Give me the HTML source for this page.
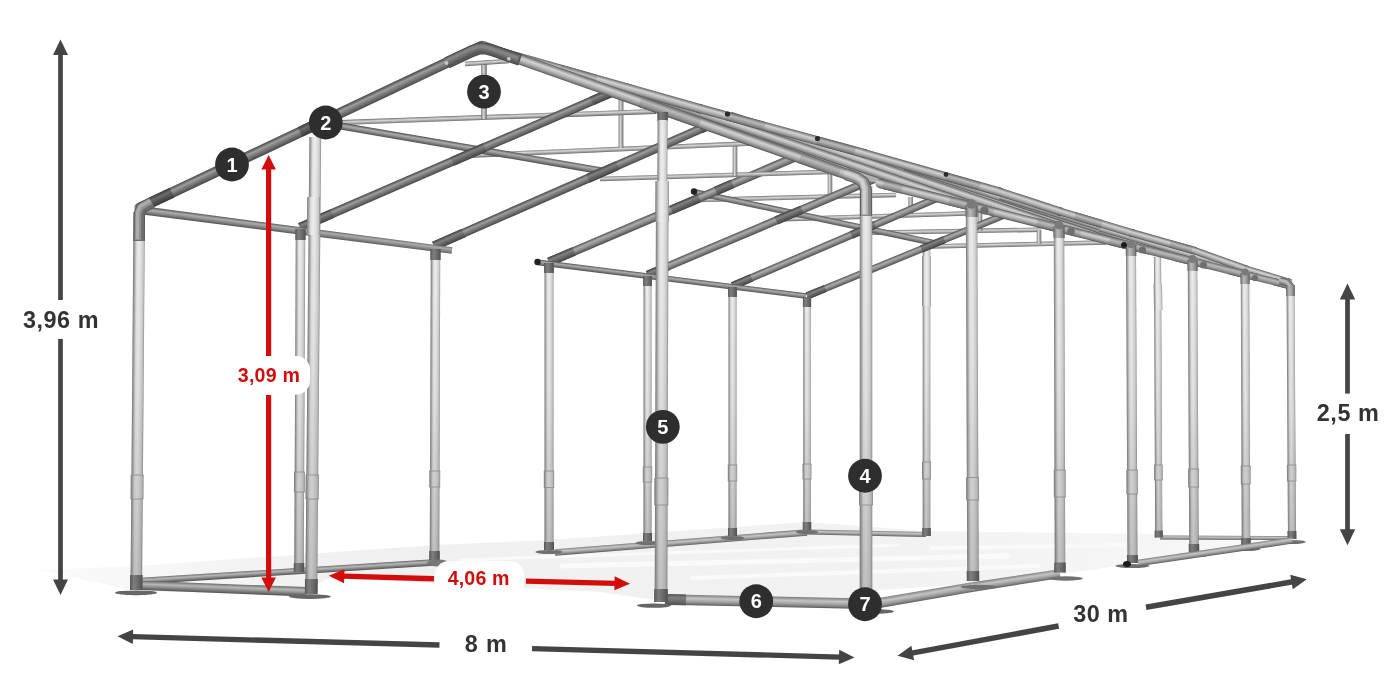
<!DOCTYPE html>
<html><head><meta charset="utf-8"><title>Frame dimensions</title>
<style>
html,body{margin:0;padding:0;background:#fff;}
body{width:1400px;height:700px;overflow:hidden;font-family:"Liberation Sans",sans-serif;}
svg{display:block}
text{font-family:"Liberation Sans",sans-serif;font-weight:bold;}
</style></head><body>
<div style="width:1400px;height:700px;will-change:transform;transform:translateZ(0)"><svg width="1400" height="700" viewBox="0 0 1400 700">
<defs><linearGradient id="g_post"><stop offset="0" stop-color="#787878"/><stop offset="0.1" stop-color="#9c9c9c"/><stop offset="0.3" stop-color="#e2e2e2"/><stop offset="0.5" stop-color="#ededed"/><stop offset="0.78" stop-color="#d6d6d6"/><stop offset="0.9" stop-color="#c2c2c2"/><stop offset="1" stop-color="#8a8a8a"/></linearGradient>
<linearGradient id="g_raft"><stop offset="0" stop-color="#4a4a4a"/><stop offset="0.14" stop-color="#686868"/><stop offset="0.33" stop-color="#9e9e9e"/><stop offset="0.52" stop-color="#848484"/><stop offset="0.78" stop-color="#666666"/><stop offset="1" stop-color="#464646"/></linearGradient>
<linearGradient id="g_raftd"><stop offset="0" stop-color="#3c3c3c"/><stop offset="0.14" stop-color="#4e4e4e"/><stop offset="0.33" stop-color="#6e6e6e"/><stop offset="0.52" stop-color="#5c5c5c"/><stop offset="0.78" stop-color="#4a4a4a"/><stop offset="1" stop-color="#363636"/></linearGradient>
<linearGradient id="g_thin"><stop offset="0" stop-color="#6c6c6c"/><stop offset="0.16" stop-color="#a2a2a2"/><stop offset="0.38" stop-color="#d6d6d6"/><stop offset="0.62" stop-color="#b0b0b0"/><stop offset="0.84" stop-color="#8a8a8a"/><stop offset="1" stop-color="#626262"/></linearGradient>
<linearGradient id="g_band"><stop offset="0" stop-color="#545454"/><stop offset="0.13" stop-color="#8e8e8e"/><stop offset="0.36" stop-color="#d2d2d2"/><stop offset="0.6" stop-color="#b6b6b6"/><stop offset="0.85" stop-color="#868686"/><stop offset="1" stop-color="#4a4a4a"/></linearGradient>
<linearGradient id="g_bandd"><stop offset="0" stop-color="#525252"/><stop offset="0.14" stop-color="#747474"/><stop offset="0.36" stop-color="#a4a4a4"/><stop offset="0.6" stop-color="#8c8c8c"/><stop offset="0.84" stop-color="#6e6e6e"/><stop offset="1" stop-color="#4a4a4a"/></linearGradient>
<linearGradient id="g_rail"><stop offset="0" stop-color="#7a7a7a"/><stop offset="0.14" stop-color="#9c9c9c"/><stop offset="0.34" stop-color="#c4c4c4"/><stop offset="0.6" stop-color="#a6a6a6"/><stop offset="0.84" stop-color="#7e7e7e"/><stop offset="1" stop-color="#585858"/></linearGradient>
<linearGradient id="g_foot"><stop offset="0" stop-color="#555555"/><stop offset="0.3" stop-color="#7e7e7e"/><stop offset="0.6" stop-color="#6e6e6e"/><stop offset="0.6" stop-color="#6e6e6e"/><stop offset="1" stop-color="#505050"/></linearGradient>
<linearGradient id="g_bandm"><stop offset="0" stop-color="#626262"/><stop offset="0.14" stop-color="#8a8a8a"/><stop offset="0.36" stop-color="#bababa"/><stop offset="0.6" stop-color="#a2a2a2"/><stop offset="0.84" stop-color="#808080"/><stop offset="1" stop-color="#585858"/></linearGradient>
<linearGradient id="g_raftm"><stop offset="0" stop-color="#444444"/><stop offset="0.14" stop-color="#5a5a5a"/><stop offset="0.33" stop-color="#838383"/><stop offset="0.52" stop-color="#6e6e6e"/><stop offset="0.78" stop-color="#585858"/><stop offset="1" stop-color="#404040"/></linearGradient>
<linearGradient id="g_raild"><stop offset="0" stop-color="#686868"/><stop offset="0.14" stop-color="#8e8e8e"/><stop offset="0.34" stop-color="#b8b8b8"/><stop offset="0.58" stop-color="#949494"/><stop offset="0.82" stop-color="#6e6e6e"/><stop offset="1" stop-color="#505050"/></linearGradient>
<linearGradient id="g_eave"><stop offset="0" stop-color="#525252"/><stop offset="0.14" stop-color="#767676"/><stop offset="0.34" stop-color="#acacac"/><stop offset="0.58" stop-color="#909090"/><stop offset="0.82" stop-color="#6c6c6c"/><stop offset="1" stop-color="#4a4a4a"/></linearGradient>
<linearGradient id="vshade" x1="0" y1="0" x2="0" y2="1"><stop offset="0" stop-color="#6e6e6e" stop-opacity="0"/><stop offset="0.45" stop-color="#6e6e6e" stop-opacity="0.08"/><stop offset="1" stop-color="#6e6e6e" stop-opacity="0.36"/></linearGradient>
<linearGradient id="p1" href="#g_rail" gradientUnits="userSpaceOnUse" x1="1226.01" y1="535.75" x2="1225.99" y2="539.75"/>
<linearGradient id="p2" href="#g_post" gradientUnits="userSpaceOnUse" x1="1154.53" y1="397.27" x2="1161.72" y2="397.23"/>
<linearGradient id="p3" href="#g_post" gradientUnits="userSpaceOnUse" x1="1154.21" y1="472.52" x2="1162.71" y2="472.48"/>
<linearGradient id="p4" href="#g_foot" gradientUnits="userSpaceOnUse" x1="1154.63" y1="534.02" x2="1162.83" y2="533.98"/>
<linearGradient id="p5" href="#g_post" gradientUnits="userSpaceOnUse" x1="1153.80" y1="297.06" x2="1162.20" y2="296.94"/>
<linearGradient id="p6" href="#g_thin" gradientUnits="userSpaceOnUse" x1="796.44" y1="195.25" x2="796.56" y2="199.75"/>
<linearGradient id="p7" href="#g_thin" gradientUnits="userSpaceOnUse" x1="870.43" y1="214.20" x2="870.57" y2="218.70"/>
<linearGradient id="p8" href="#g_thin" gradientUnits="userSpaceOnUse" x1="948.46" y1="229.10" x2="948.54" y2="233.60"/>
<linearGradient id="p9" href="#g_thin" gradientUnits="userSpaceOnUse" x1="1017.45" y1="242.25" x2="1017.55" y2="246.75"/>
<linearGradient id="p10" href="#g_thin" gradientUnits="userSpaceOnUse" x1="908.45" y1="205.50" x2="912.95" y2="205.50"/>
<linearGradient id="p11" href="#g_thin" gradientUnits="userSpaceOnUse" x1="827.75" y1="181.50" x2="832.25" y2="181.50"/>
<linearGradient id="p12" href="#g_thin" gradientUnits="userSpaceOnUse" x1="977.75" y1="222.00" x2="982.25" y2="222.00"/>
<linearGradient id="p13" href="#g_thin" gradientUnits="userSpaceOnUse" x1="1036.75" y1="237.00" x2="1041.25" y2="237.00"/>
<linearGradient id="p14" href="#g_rail" gradientUnits="userSpaceOnUse" x1="866.55" y1="530.75" x2="866.45" y2="535.75"/>
<linearGradient id="p15" href="#g_rail" gradientUnits="userSpaceOnUse" x1="680.75" y1="539.31" x2="681.25" y2="545.69"/>
<linearGradient id="p16" href="#g_post" gradientUnits="userSpaceOnUse" x1="922.70" y1="391.50" x2="930.30" y2="391.50"/>
<linearGradient id="p17" href="#g_post" gradientUnits="userSpaceOnUse" x1="922.05" y1="470.50" x2="930.95" y2="470.50"/>
<linearGradient id="p18" href="#g_foot" gradientUnits="userSpaceOnUse" x1="922.20" y1="532.00" x2="930.80" y2="532.00"/>
<linearGradient id="p19" href="#g_post" gradientUnits="userSpaceOnUse" x1="922.10" y1="281.00" x2="930.90" y2="281.00"/>
<linearGradient id="p20" href="#g_eave" gradientUnits="userSpaceOnUse" x1="814.64" y1="214.47" x2="813.36" y2="220.53"/>
<linearGradient id="p21" href="#g_eave" gradientUnits="userSpaceOnUse" x1="920.17" y1="245.76" x2="922.83" y2="252.24"/>
<linearGradient id="p22" href="#g_raftm" gradientUnits="userSpaceOnUse" x1="814.77" y1="288.86" x2="817.55" y2="295.62"/>
<linearGradient id="p23" href="#g_raftm" gradientUnits="userSpaceOnUse" x1="931.56" y1="240.92" x2="934.34" y2="247.68"/>
<linearGradient id="p24" href="#g_eave" gradientUnits="userSpaceOnUse" x1="849.75" y1="231.51" x2="852.75" y2="238.49"/>
<linearGradient id="p25" href="#g_raftm" gradientUnits="userSpaceOnUse" x1="740.44" y1="278.29" x2="743.56" y2="285.55"/>
<linearGradient id="p26" href="#g_raftm" gradientUnits="userSpaceOnUse" x1="861.57" y1="226.27" x2="864.68" y2="233.53"/>
<linearGradient id="p27" href="#g_eave" gradientUnits="userSpaceOnUse" x1="774.65" y1="216.72" x2="777.85" y2="224.28"/>
<linearGradient id="p28" href="#g_raftm" gradientUnits="userSpaceOnUse" x1="656.14" y1="266.73" x2="659.46" y2="274.55"/>
<linearGradient id="p29" href="#g_raftm" gradientUnits="userSpaceOnUse" x1="787.47" y1="211.14" x2="790.78" y2="218.96"/>
<linearGradient id="p30" href="#g_eave" gradientUnits="userSpaceOnUse" x1="686.28" y1="198.75" x2="689.72" y2="206.85"/>
<linearGradient id="p31" href="#g_raftm" gradientUnits="userSpaceOnUse" x1="559.73" y1="252.49" x2="563.29" y2="260.86"/>
<linearGradient id="p32" href="#g_raftm" gradientUnits="userSpaceOnUse" x1="683.44" y1="199.80" x2="687.00" y2="208.17"/>
<linearGradient id="p33" href="#g_raftm" gradientUnits="userSpaceOnUse" x1="722.36" y1="183.22" x2="725.92" y2="191.59"/>
<linearGradient id="p34" href="#g_eave" gradientUnits="userSpaceOnUse" x1="672.35" y1="276.42" x2="671.65" y2="281.98"/>
<linearGradient id="p35" href="#g_post" gradientUnits="userSpaceOnUse" x1="803.25" y1="414.00" x2="810.75" y2="414.00"/>
<linearGradient id="p36" href="#g_post" gradientUnits="userSpaceOnUse" x1="802.60" y1="471.50" x2="811.40" y2="471.50"/>
<linearGradient id="p37" href="#g_foot" gradientUnits="userSpaceOnUse" x1="802.75" y1="526.00" x2="811.25" y2="526.00"/>
<linearGradient id="p38" href="#g_foot" gradientUnits="userSpaceOnUse" x1="802.85" y1="302.00" x2="811.15" y2="302.00"/>
<linearGradient id="p39" href="#g_post" gradientUnits="userSpaceOnUse" x1="728.50" y1="412.00" x2="736.50" y2="412.00"/>
<linearGradient id="p40" href="#g_post" gradientUnits="userSpaceOnUse" x1="727.85" y1="473.00" x2="737.15" y2="473.00"/>
<linearGradient id="p41" href="#g_foot" gradientUnits="userSpaceOnUse" x1="728.00" y1="532.00" x2="737.00" y2="532.00"/>
<linearGradient id="p42" href="#g_foot" gradientUnits="userSpaceOnUse" x1="728.10" y1="292.00" x2="736.90" y2="292.00"/>
<linearGradient id="p43" href="#g_post" gradientUnits="userSpaceOnUse" x1="643.50" y1="409.00" x2="651.50" y2="409.00"/>
<linearGradient id="p44" href="#g_post" gradientUnits="userSpaceOnUse" x1="642.85" y1="474.50" x2="652.15" y2="474.50"/>
<linearGradient id="p45" href="#g_foot" gradientUnits="userSpaceOnUse" x1="643.00" y1="537.00" x2="652.00" y2="537.00"/>
<linearGradient id="p46" href="#g_foot" gradientUnits="userSpaceOnUse" x1="643.10" y1="281.00" x2="651.90" y2="281.00"/>
<linearGradient id="p47" href="#g_post" gradientUnits="userSpaceOnUse" x1="544.50" y1="407.00" x2="553.50" y2="407.00"/>
<linearGradient id="p48" href="#g_post" gradientUnits="userSpaceOnUse" x1="543.85" y1="479.25" x2="554.15" y2="479.25"/>
<linearGradient id="p49" href="#g_foot" gradientUnits="userSpaceOnUse" x1="544.00" y1="546.00" x2="554.00" y2="546.00"/>
<linearGradient id="p50" href="#g_foot" gradientUnits="userSpaceOnUse" x1="544.10" y1="268.00" x2="553.90" y2="268.00"/>
<linearGradient id="p51" href="#g_thin" gradientUnits="userSpaceOnUse" x1="745.93" y1="172.20" x2="746.07" y2="176.80"/>
<linearGradient id="p52" href="#g_thin" gradientUnits="userSpaceOnUse" x1="732.70" y1="159.00" x2="737.30" y2="159.00"/>
<linearGradient id="p53" href="#g_thin" gradientUnits="userSpaceOnUse" x1="626.40" y1="146.40" x2="626.60" y2="151.20"/>
<linearGradient id="p54" href="#g_thin" gradientUnits="userSpaceOnUse" x1="618.60" y1="124.00" x2="623.40" y2="124.00"/>
<linearGradient id="p55" href="#g_thin" gradientUnits="userSpaceOnUse" x1="490.91" y1="114.75" x2="491.09" y2="119.75"/>
<linearGradient id="p56" href="#g_thin" gradientUnits="userSpaceOnUse" x1="481.20" y1="90.00" x2="486.80" y2="90.00"/>
<linearGradient id="p57" href="#g_thin" gradientUnits="userSpaceOnUse" x1="486.85" y1="60.31" x2="487.15" y2="64.69"/>
<linearGradient id="p58" href="#g_eave" gradientUnits="userSpaceOnUse" x1="464.59" y1="143.80" x2="463.41" y2="150.70"/>
<linearGradient id="p59" href="#g_raft" gradientUnits="userSpaceOnUse" x1="580.19" y1="176.88" x2="583.81" y2="185.12"/>
<linearGradient id="p60" href="#g_raftm" gradientUnits="userSpaceOnUse" x1="446.93" y1="235.24" x2="450.67" y2="243.76"/>
<linearGradient id="p61" href="#g_raftm" gradientUnits="userSpaceOnUse" x1="600.85" y1="167.64" x2="604.59" y2="176.16"/>
<linearGradient id="p62" href="#g_raftm" gradientUnits="userSpaceOnUse" x1="713.33" y1="118.24" x2="717.07" y2="126.76"/>
<linearGradient id="p63" href="#g_raft" gradientUnits="userSpaceOnUse" x1="460.21" y1="153.12" x2="463.79" y2="161.38"/>
<linearGradient id="p64" href="#g_raftm" gradientUnits="userSpaceOnUse" x1="314.35" y1="216.21" x2="318.05" y2="224.74"/>
<linearGradient id="p65" href="#g_raftm" gradientUnits="userSpaceOnUse" x1="466.63" y1="150.17" x2="470.33" y2="158.71"/>
<linearGradient id="p66" href="#g_raftm" gradientUnits="userSpaceOnUse" x1="605.95" y1="89.76" x2="609.65" y2="98.29"/>
<linearGradient id="p67" href="#g_eave" gradientUnits="userSpaceOnUse" x1="298.04" y1="226.28" x2="296.96" y2="234.62"/>
<linearGradient id="p68" href="#g_band" gradientUnits="userSpaceOnUse" x1="895.94" y1="167.24" x2="893.06" y2="175.76"/>
<linearGradient id="p69" href="#g_band" gradientUnits="userSpaceOnUse" x1="798.95" y1="141.74" x2="796.05" y2="150.26"/>
<linearGradient id="p70" href="#g_band" gradientUnits="userSpaceOnUse" x1="1019.74" y1="199.20" x2="1017.26" y2="206.80"/>
<linearGradient id="p71" href="#g_band" gradientUnits="userSpaceOnUse" x1="1098.11" y1="222.42" x2="1095.89" y2="229.58"/>
<linearGradient id="p72" href="#g_band" gradientUnits="userSpaceOnUse" x1="1173.99" y1="246.14" x2="1172.01" y2="252.86"/>
<linearGradient id="p73" href="#g_band" gradientUnits="userSpaceOnUse" x1="592.28" y1="73.33" x2="589.72" y2="82.37"/>
<linearGradient id="p74" href="#g_band" gradientUnits="userSpaceOnUse" x1="783.69" y1="126.84" x2="781.31" y2="135.56"/>
<linearGradient id="p75" href="#g_band" gradientUnits="userSpaceOnUse" x1="933.68" y1="168.68" x2="931.32" y2="177.02"/>
<linearGradient id="p76" href="#g_band" gradientUnits="userSpaceOnUse" x1="1031.28" y1="197.80" x2="1028.72" y2="205.70"/>
<linearGradient id="p77" href="#g_band" gradientUnits="userSpaceOnUse" x1="1097.14" y1="218.44" x2="1094.86" y2="226.06"/>
<linearGradient id="p78" href="#g_band" gradientUnits="userSpaceOnUse" x1="1164.03" y1="238.10" x2="1161.97" y2="245.40"/>
<linearGradient id="p79" href="#g_band" gradientUnits="userSpaceOnUse" x1="1221.21" y1="256.35" x2="1218.79" y2="263.15"/>
<linearGradient id="p80" href="#g_band" gradientUnits="userSpaceOnUse" x1="1268.49" y1="272.22" x2="1266.51" y2="278.78"/>
<linearGradient id="p81" href="#g_bandm" gradientUnits="userSpaceOnUse" x1="579.23" y1="69.84" x2="576.77" y2="78.50"/>
<linearGradient id="p82" href="#g_bandm" gradientUnits="userSpaceOnUse" x1="747.13" y1="117.10" x2="744.87" y2="125.39"/>
<linearGradient id="p83" href="#g_bandm" gradientUnits="userSpaceOnUse" x1="837.10" y1="141.76" x2="834.90" y2="149.82"/>
<linearGradient id="p84" href="#g_bandm" gradientUnits="userSpaceOnUse" x1="964.10" y1="177.64" x2="961.90" y2="185.37"/>
<linearGradient id="p85" href="#g_bandm" gradientUnits="userSpaceOnUse" x1="1089.60" y1="216.31" x2="1087.40" y2="223.71"/>
<linearGradient id="p86" href="#g_bandm" gradientUnits="userSpaceOnUse" x1="1182.02" y1="243.23" x2="1179.98" y2="250.43"/>
<linearGradient id="p87" href="#g_band" gradientUnits="userSpaceOnUse" x1="926.86" y1="190.48" x2="924.64" y2="199.41"/>
<linearGradient id="p88" href="#g_bandm" gradientUnits="userSpaceOnUse" x1="893.61" y1="182.20" x2="891.39" y2="191.13"/>
<linearGradient id="p89" href="#g_bandm" gradientUnits="userSpaceOnUse" x1="960.61" y1="198.88" x2="958.39" y2="207.81"/>
<linearGradient id="p90" href="#g_band" gradientUnits="userSpaceOnUse" x1="1016.31" y1="212.96" x2="1014.19" y2="221.50"/>
<linearGradient id="p91" href="#g_bandm" gradientUnits="userSpaceOnUse" x1="985.06" y1="205.18" x2="982.94" y2="213.72"/>
<linearGradient id="p92" href="#g_bandm" gradientUnits="userSpaceOnUse" x1="1048.06" y1="220.87" x2="1045.94" y2="229.40"/>
<linearGradient id="p93" href="#g_band" gradientUnits="userSpaceOnUse" x1="1096.01" y1="233.01" x2="1093.99" y2="241.16"/>
<linearGradient id="p94" href="#g_bandm" gradientUnits="userSpaceOnUse" x1="1072.31" y1="227.11" x2="1070.29" y2="235.26"/>
<linearGradient id="p95" href="#g_bandm" gradientUnits="userSpaceOnUse" x1="1120.21" y1="239.04" x2="1118.19" y2="247.19"/>
<linearGradient id="p96" href="#g_bandm" gradientUnits="userSpaceOnUse" x1="1162.72" y1="249.83" x2="1160.78" y2="257.59"/>
<linearGradient id="p97" href="#g_bandm" gradientUnits="userSpaceOnUse" x1="1142.69" y1="244.84" x2="1140.76" y2="252.60"/>
<linearGradient id="p98" href="#g_bandm" gradientUnits="userSpaceOnUse" x1="1183.24" y1="254.94" x2="1181.31" y2="262.70"/>
<linearGradient id="p99" href="#g_bandm" gradientUnits="userSpaceOnUse" x1="1219.67" y1="264.21" x2="1217.83" y2="271.59"/>
<linearGradient id="p100" href="#g_bandm" gradientUnits="userSpaceOnUse" x1="1202.79" y1="260.01" x2="1200.96" y2="267.39"/>
<linearGradient id="p101" href="#g_bandm" gradientUnits="userSpaceOnUse" x1="1237.04" y1="268.54" x2="1235.21" y2="275.91"/>
<linearGradient id="p102" href="#g_bandm" gradientUnits="userSpaceOnUse" x1="1266.87" y1="276.17" x2="1265.13" y2="283.16"/>
<linearGradient id="p103" href="#g_bandm" gradientUnits="userSpaceOnUse" x1="1253.67" y1="272.89" x2="1251.93" y2="279.87"/>
<linearGradient id="p104" href="#g_bandm" gradientUnits="userSpaceOnUse" x1="1280.57" y1="279.58" x2="1278.83" y2="286.57"/>
<linearGradient id="p105" href="#g_band" gradientUnits="userSpaceOnUse" x1="668.79" y1="106.01" x2="665.21" y2="116.19"/>
<linearGradient id="p106" href="#g_bandm" gradientUnits="userSpaceOnUse" x1="671.79" y1="107.06" x2="668.21" y2="117.24"/>
<linearGradient id="p107" href="#g_bandm" gradientUnits="userSpaceOnUse" x1="821.80" y1="159.86" x2="818.20" y2="170.04"/>
<linearGradient id="p108" href="#g_raft" gradientUnits="userSpaceOnUse" x1="308.51" y1="122.25" x2="312.99" y2="131.75"/>
<linearGradient id="p109" href="#g_raftd" gradientUnits="userSpaceOnUse" x1="312.73" y1="120.11" x2="317.27" y2="129.69"/>
<linearGradient id="p110" href="#g_raftd" gradientUnits="userSpaceOnUse" x1="158.73" y1="193.01" x2="163.27" y2="202.59"/>
<linearGradient id="p111" href="#g_post" gradientUnits="userSpaceOnUse" x1="1287.25" y1="413.02" x2="1295.25" y2="412.98"/>
<linearGradient id="p112" href="#g_post" gradientUnits="userSpaceOnUse" x1="1286.96" y1="473.03" x2="1296.26" y2="472.97"/>
<linearGradient id="p113" href="#g_foot" gradientUnits="userSpaceOnUse" x1="1287.48" y1="535.03" x2="1296.48" y2="534.97"/>
<linearGradient id="p114" href="#g_bandm" gradientUnits="userSpaceOnUse" x1="1286.25" y1="290.54" x2="1294.85" y2="290.46"/>
<linearGradient id="p115" href="#g_post" gradientUnits="userSpaceOnUse" x1="1241.25" y1="410.52" x2="1249.75" y2="410.48"/>
<linearGradient id="p116" href="#g_post" gradientUnits="userSpaceOnUse" x1="1240.84" y1="475.02" x2="1250.64" y2="474.98"/>
<linearGradient id="p117" href="#g_foot" gradientUnits="userSpaceOnUse" x1="1241.24" y1="542.02" x2="1250.74" y2="541.98"/>
<linearGradient id="p118" href="#g_bandm" gradientUnits="userSpaceOnUse" x1="1240.50" y1="278.54" x2="1249.60" y2="278.46"/>
<linearGradient id="p119" href="#g_post" gradientUnits="userSpaceOnUse" x1="1188.50" y1="407.02" x2="1198.00" y2="406.98"/>
<linearGradient id="p120" href="#g_post" gradientUnits="userSpaceOnUse" x1="1188.22" y1="478.03" x2="1199.02" y2="477.97"/>
<linearGradient id="p121" href="#g_foot" gradientUnits="userSpaceOnUse" x1="1188.73" y1="548.03" x2="1199.23" y2="547.97"/>
<linearGradient id="p122" href="#g_bandm" gradientUnits="userSpaceOnUse" x1="1187.50" y1="265.55" x2="1197.60" y2="265.45"/>
<linearGradient id="p123" href="#g_post" gradientUnits="userSpaceOnUse" x1="1126.75" y1="405.02" x2="1136.75" y2="404.98"/>
<linearGradient id="p124" href="#g_post" gradientUnits="userSpaceOnUse" x1="1126.47" y1="482.03" x2="1137.77" y2="481.97"/>
<linearGradient id="p125" href="#g_foot" gradientUnits="userSpaceOnUse" x1="1126.98" y1="559.03" x2="1137.98" y2="558.97"/>
<linearGradient id="p126" href="#g_bandm" gradientUnits="userSpaceOnUse" x1="1125.75" y1="250.55" x2="1136.35" y2="250.45"/>
<linearGradient id="p127" href="#g_rail" gradientUnits="userSpaceOnUse" x1="1214.77" y1="548.39" x2="1215.73" y2="554.91"/>
<linearGradient id="p128" href="#g_raild" gradientUnits="userSpaceOnUse" x1="286.80" y1="568.56" x2="287.20" y2="574.94"/>
<linearGradient id="p129" href="#g_post" gradientUnits="userSpaceOnUse" x1="430.25" y1="404.98" x2="439.75" y2="405.02"/>
<linearGradient id="p130" href="#g_post" gradientUnits="userSpaceOnUse" x1="429.36" y1="478.98" x2="440.16" y2="479.02"/>
<linearGradient id="p131" href="#g_foot" gradientUnits="userSpaceOnUse" x1="429.26" y1="555.48" x2="439.76" y2="555.52"/>
<linearGradient id="p132" href="#g_foot" gradientUnits="userSpaceOnUse" x1="430.35" y1="254.50" x2="440.65" y2="254.50"/>
<linearGradient id="p133" href="#g_post" gradientUnits="userSpaceOnUse" x1="295.00" y1="400.98" x2="304.50" y2="401.02"/>
<linearGradient id="p134" href="#g_post" gradientUnits="userSpaceOnUse" x1="293.99" y1="481.98" x2="304.79" y2="482.02"/>
<linearGradient id="p135" href="#g_foot" gradientUnits="userSpaceOnUse" x1="293.77" y1="567.48" x2="304.27" y2="567.52"/>
<linearGradient id="p136" href="#g_foot" gradientUnits="userSpaceOnUse" x1="295.35" y1="234.50" x2="305.65" y2="234.50"/>
<linearGradient id="p137" href="#g_rail" gradientUnits="userSpaceOnUse" x1="918.64" y1="591.12" x2="920.36" y2="601.18"/>
<linearGradient id="p138" href="#g_rail" gradientUnits="userSpaceOnUse" x1="1015.78" y1="575.65" x2="1017.22" y2="584.95"/>
<linearGradient id="p139" href="#g_post" gradientUnits="userSpaceOnUse" x1="1054.25" y1="400.27" x2="1064.75" y2="400.23"/>
<linearGradient id="p140" href="#g_post" gradientUnits="userSpaceOnUse" x1="1053.84" y1="483.52" x2="1065.64" y2="483.48"/>
<linearGradient id="p141" href="#g_foot" gradientUnits="userSpaceOnUse" x1="1054.24" y1="567.52" x2="1065.74" y2="567.48"/>
<linearGradient id="p142" href="#g_bandm" gradientUnits="userSpaceOnUse" x1="1053.50" y1="232.05" x2="1064.60" y2="231.95"/>
<linearGradient id="p143" href="#g_post" gradientUnits="userSpaceOnUse" x1="966.50" y1="394.02" x2="978.00" y2="393.98"/>
<linearGradient id="p144" href="#g_post" gradientUnits="userSpaceOnUse" x1="966.23" y1="488.78" x2="979.03" y2="488.72"/>
<linearGradient id="p145" href="#g_foot" gradientUnits="userSpaceOnUse" x1="966.73" y1="576.03" x2="979.23" y2="575.97"/>
<linearGradient id="p146" href="#g_bandm" gradientUnits="userSpaceOnUse" x1="965.50" y1="211.05" x2="977.60" y2="210.95"/>
<linearGradient id="p147" href="#g_raild" gradientUnits="userSpaceOnUse" x1="223.68" y1="583.90" x2="223.32" y2="593.30"/>
<linearGradient id="p148" href="#g_rail" gradientUnits="userSpaceOnUse" x1="765.61" y1="596.45" x2="765.39" y2="606.85"/>
<linearGradient id="p149" href="#g_foot" gradientUnits="userSpaceOnUse" x1="675.62" y1="594.33" x2="675.38" y2="605.12"/>
<linearGradient id="p150" href="#g_post" gradientUnits="userSpaceOnUse" x1="132.00" y1="400.95" x2="143.50" y2="401.05"/>
<linearGradient id="p151" href="#g_post" gradientUnits="userSpaceOnUse" x1="130.67" y1="486.95" x2="143.47" y2="487.05"/>
<linearGradient id="p152" href="#g_foot" gradientUnits="userSpaceOnUse" x1="130.06" y1="582.45" x2="142.56" y2="582.55"/>
<linearGradient id="p153" href="#g_post" gradientUnits="userSpaceOnUse" x1="307.35" y1="365.45" x2="319.15" y2="365.55"/>
<linearGradient id="p154" href="#g_post" gradientUnits="userSpaceOnUse" x1="305.64" y1="486.94" x2="318.74" y2="487.06"/>
<linearGradient id="p155" href="#g_foot" gradientUnits="userSpaceOnUse" x1="304.92" y1="586.44" x2="317.72" y2="586.56"/>
<linearGradient id="p156" href="#g_post" gradientUnits="userSpaceOnUse" x1="307.05" y1="215.95" x2="319.85" y2="216.05"/>
<linearGradient id="p157" href="#g_foot" gradientUnits="userSpaceOnUse" x1="657.30" y1="116.50" x2="667.90" y2="116.50"/>
<linearGradient id="p158" href="#g_post" gradientUnits="userSpaceOnUse" x1="657.45" y1="150.98" x2="667.45" y2="151.02"/>
<linearGradient id="p159" href="#g_post" gradientUnits="userSpaceOnUse" x1="655.35" y1="391.48" x2="667.95" y2="391.52"/>
<linearGradient id="p160" href="#g_post" gradientUnits="userSpaceOnUse" x1="654.39" y1="491.48" x2="668.29" y2="491.52"/>
<linearGradient id="p161" href="#g_foot" gradientUnits="userSpaceOnUse" x1="654.22" y1="595.48" x2="667.82" y2="595.52"/>
<linearGradient id="p162" href="#g_post" gradientUnits="userSpaceOnUse" x1="655.30" y1="201.47" x2="668.90" y2="201.53"/>
<linearGradient id="p163" href="#g_post" gradientUnits="userSpaceOnUse" x1="859.75" y1="394.00" x2="872.25" y2="394.00"/>
<linearGradient id="p164" href="#g_post" gradientUnits="userSpaceOnUse" x1="859.10" y1="488.50" x2="872.90" y2="488.50"/></defs>
<defs>
<linearGradient id="shg" x1="0" y1="0" x2="1" y2="0">
<stop offset="0" stop-color="#fafafa"/><stop offset="0.25" stop-color="#f0f0f0"/><stop offset="0.7" stop-color="#f2f2f2"/><stop offset="1" stop-color="#f8f8f8"/>
</linearGradient>
</defs>
<polygon points="40,570 137,566 435,545 549,540 807,522 926,531 1160,534 1292,537 1292,541 1062,574 1030,580 880,590 866,600 700,597 655,600 600,592 330,578 300,592 140,592" fill="url(#shg)"/>
<line x1="560" y1="566" x2="1010" y2="556" stroke="#fafafa" stroke-width="5"/>
<line x1="690" y1="578" x2="1040" y2="566" stroke="#fafafa" stroke-width="4"/>
<line x1="460" y1="560" x2="900" y2="545" stroke="#fafafa" stroke-width="3"/>
<line x1="930" y1="548" x2="1130" y2="545" stroke="#fafafa" stroke-width="4"/>
<polygon points="1160.01,535.50 1292.01,536.00 1291.99,540.00 1159.99,539.50" fill="url(#p1)"/>
<polygon points="1153.90,257.02 1155.15,537.52 1162.35,537.48 1161.10,256.98" fill="url(#p2)"/>
<polygon points="1153.90,257.00 1161.10,257.00 1162.35,537.50 1155.15,537.50" fill="url(#vshade)"/>
<polygon points="1154.18,465.02 1154.24,480.02 1162.74,479.98 1162.68,464.98" fill="url(#p3)"/>
<rect x="1154.18" y="465.00" width="8.50" height="15.00" fill="#6e6e6e" fill-opacity="0.24"/>
<line x1="1154.18" y1="465.00" x2="1162.68" y2="465.00" stroke="#8a8a8a" stroke-width="0.8"/>
<line x1="1154.24" y1="480.00" x2="1162.74" y2="480.00" stroke="#8a8a8a" stroke-width="0.8"/>
<polygon points="1154.62,530.52 1154.65,537.52 1162.85,537.48 1162.82,530.48" fill="url(#p4)"/>
<polygon points="1153.60,284.06 1154.00,310.06 1162.40,309.94 1162.00,283.94" fill="url(#p5)"/>
<polygon points="696.94,197.75 895.94,192.75 896.06,197.25 697.06,202.25" fill="url(#p6)"/>
<polygon points="774.93,217.25 965.93,211.15 966.07,215.65 775.07,221.75" fill="url(#p7)"/>
<polygon points="855.96,230.75 1040.96,227.45 1041.04,231.95 856.04,235.25" fill="url(#p8)"/>
<polygon points="928.95,244.15 1105.95,240.35 1106.05,244.85 929.05,248.65" fill="url(#p9)"/>
<polygon points="908.45,197.00 908.45,214.00 912.95,214.00 912.95,197.00" fill="url(#p10)"/>
<polygon points="827.75,168.00 827.75,195.00 832.25,195.00 832.25,168.00" fill="url(#p11)"/>
<polygon points="977.75,213.00 977.75,231.00 982.25,231.00 982.25,213.00" fill="url(#p12)"/>
<polygon points="1036.75,230.00 1036.75,244.00 1041.25,244.00 1041.25,230.00" fill="url(#p13)"/>
<polygon points="807.05,529.50 926.05,532.00 925.95,537.00 806.95,534.50" fill="url(#p14)"/>
<polygon points="554.75,549.31 806.75,529.31 807.25,535.69 555.25,555.69" fill="url(#p15)"/>
<polygon points="922.70,247.00 922.70,536.00 930.30,536.00 930.30,247.00" fill="url(#p16)"/>
<polygon points="922.70,247.00 930.30,247.00 930.30,536.00 922.70,536.00" fill="url(#vshade)"/>
<polygon points="922.05,462.00 922.05,479.00 930.95,479.00 930.95,462.00" fill="url(#p17)"/>
<rect x="922.05" y="462.00" width="8.90" height="17.00" fill="#6e6e6e" fill-opacity="0.24"/>
<line x1="922.05" y1="462.00" x2="930.95" y2="462.00" stroke="#8a8a8a" stroke-width="0.8"/>
<line x1="922.05" y1="479.00" x2="930.95" y2="479.00" stroke="#8a8a8a" stroke-width="0.8"/>
<polygon points="922.20,528.00 922.20,536.00 930.80,536.00 930.80,528.00" fill="url(#p18)"/>
<polygon points="922.10,256.00 922.10,306.00 930.90,306.00 930.90,256.00" fill="url(#p19)"/>
<polygon points="694.64,188.97 934.64,239.97 933.36,246.03 693.36,195.03" fill="url(#p20)"/>
<polygon points="805.67,292.76 1034.67,198.76 1037.33,205.24 808.33,299.24" fill="url(#p21)"/>
<polygon points="805.61,292.62 823.93,285.10 826.71,291.86 808.39,299.38" fill="url(#p22)"/>
<polygon points="920.11,245.62 943.01,236.22 945.79,242.98 922.89,252.38" fill="url(#p23)"/>
<polygon points="731.00,282.51 968.50,180.51 971.50,187.49 734.00,289.49" fill="url(#p24)"/>
<polygon points="730.94,282.37 749.94,274.21 753.06,281.47 734.06,289.63" fill="url(#p25)"/>
<polygon points="849.69,231.37 873.44,221.17 876.56,228.43 852.81,238.63" fill="url(#p26)"/>
<polygon points="645.90,271.22 903.40,162.22 906.60,169.78 649.10,278.78" fill="url(#p27)"/>
<polygon points="645.84,271.09 666.44,262.37 669.76,270.19 649.16,278.91" fill="url(#p28)"/>
<polygon points="774.59,216.59 800.34,205.69 803.66,213.51 777.91,224.41" fill="url(#p29)"/>
<polygon points="547.28,257.95 825.28,139.55 828.72,147.65 550.72,266.05" fill="url(#p30)"/>
<polygon points="547.22,257.81 572.24,247.16 575.80,255.53 550.78,266.19" fill="url(#p31)"/>
<polygon points="669.54,205.72 697.34,193.88 700.90,202.25 673.10,214.09" fill="url(#p32)"/>
<polygon points="714.02,186.77 730.70,179.67 734.26,188.04 717.58,195.15" fill="url(#p33)"/>
<polygon points="538.35,259.62 806.35,293.22 805.65,298.78 537.65,265.18" fill="url(#p34)"/>
<circle cx="537.5" cy="262" r="3.2" fill="#222"/>
<circle cx="694" cy="191.5" r="3.2" fill="#222"/>
<polygon points="803.25,298.00 803.25,530.00 810.75,530.00 810.75,298.00" fill="url(#p35)"/>
<polygon points="803.25,298.00 810.75,298.00 810.75,530.00 803.25,530.00" fill="url(#vshade)"/>
<polygon points="802.60,464.00 802.60,479.00 811.40,479.00 811.40,464.00" fill="url(#p36)"/>
<rect x="802.60" y="464.00" width="8.80" height="15.00" fill="#6e6e6e" fill-opacity="0.23"/>
<line x1="802.60" y1="464.00" x2="811.40" y2="464.00" stroke="#8a8a8a" stroke-width="0.8"/>
<line x1="802.60" y1="479.00" x2="811.40" y2="479.00" stroke="#8a8a8a" stroke-width="0.8"/>
<polygon points="802.75,522.00 802.75,530.00 811.25,530.00 811.25,522.00" fill="url(#p37)"/>
<polygon points="802.85,297.00 802.85,307.00 811.15,307.00 811.15,297.00" fill="url(#p38)"/>
<ellipse cx="807.0" cy="532.0" rx="11.2" ry="2" fill="#707070"/>
<polygon points="728.50,288.00 728.50,536.00 736.50,536.00 736.50,288.00" fill="url(#p39)"/>
<polygon points="728.50,288.00 736.50,288.00 736.50,536.00 728.50,536.00" fill="url(#vshade)"/>
<polygon points="727.85,465.00 727.85,481.00 737.15,481.00 737.15,465.00" fill="url(#p40)"/>
<rect x="727.85" y="465.00" width="9.30" height="16.00" fill="#6e6e6e" fill-opacity="0.23"/>
<line x1="727.85" y1="465.00" x2="737.15" y2="465.00" stroke="#8a8a8a" stroke-width="0.8"/>
<line x1="727.85" y1="481.00" x2="737.15" y2="481.00" stroke="#8a8a8a" stroke-width="0.8"/>
<polygon points="728.00,528.00 728.00,536.00 737.00,536.00 737.00,528.00" fill="url(#p41)"/>
<polygon points="728.10,287.00 728.10,297.00 736.90,297.00 736.90,287.00" fill="url(#p42)"/>
<ellipse cx="732.5" cy="538.0" rx="12.0" ry="2" fill="#707070"/>
<polygon points="643.50,277.00 643.50,541.00 651.50,541.00 651.50,277.00" fill="url(#p43)"/>
<polygon points="643.50,277.00 651.50,277.00 651.50,541.00 643.50,541.00" fill="url(#vshade)"/>
<polygon points="642.85,467.00 642.85,482.00 652.15,482.00 652.15,467.00" fill="url(#p44)"/>
<rect x="642.85" y="467.00" width="9.30" height="15.00" fill="#6e6e6e" fill-opacity="0.23"/>
<line x1="642.85" y1="467.00" x2="652.15" y2="467.00" stroke="#8a8a8a" stroke-width="0.8"/>
<line x1="642.85" y1="482.00" x2="652.15" y2="482.00" stroke="#8a8a8a" stroke-width="0.8"/>
<polygon points="643.00,533.00 643.00,541.00 652.00,541.00 652.00,533.00" fill="url(#p45)"/>
<polygon points="643.10,276.00 643.10,286.00 651.90,286.00 651.90,276.00" fill="url(#p46)"/>
<ellipse cx="647.5" cy="543.0" rx="12.0" ry="2" fill="#707070"/>
<polygon points="544.50,264.00 544.50,550.00 553.50,550.00 553.50,264.00" fill="url(#p47)"/>
<polygon points="544.50,264.00 553.50,264.00 553.50,550.00 544.50,550.00" fill="url(#vshade)"/>
<polygon points="543.85,471.00 543.85,487.50 554.15,487.50 554.15,471.00" fill="url(#p48)"/>
<rect x="543.85" y="471.00" width="10.30" height="16.50" fill="#6e6e6e" fill-opacity="0.23"/>
<line x1="543.85" y1="471.00" x2="554.15" y2="471.00" stroke="#8a8a8a" stroke-width="0.8"/>
<line x1="543.85" y1="487.50" x2="554.15" y2="487.50" stroke="#8a8a8a" stroke-width="0.8"/>
<polygon points="544.00,542.00 544.00,550.00 554.00,550.00 554.00,542.00" fill="url(#p49)"/>
<polygon points="544.10,263.00 544.10,273.00 553.90,273.00 553.90,263.00" fill="url(#p50)"/>
<ellipse cx="549.0" cy="552.0" rx="13.5" ry="2" fill="#707070"/>
<polygon points="599.93,176.70 891.93,167.70 892.07,172.30 600.07,181.30" fill="url(#p51)"/>
<polygon points="732.70,142.00 732.70,176.00 737.30,176.00 737.30,142.00" fill="url(#p52)"/>
<polygon points="466.90,153.20 785.90,139.60 786.10,144.40 467.10,158.00" fill="url(#p53)"/>
<polygon points="618.60,100.00 618.60,148.00 623.40,148.00 623.40,100.00" fill="url(#p54)"/>
<polygon points="325.91,120.50 655.91,109.00 656.09,114.00 326.09,125.50" fill="url(#p55)"/>
<polygon points="481.20,61.00 481.20,119.00 486.80,119.00 486.80,61.00" fill="url(#p56)"/>
<polygon points="464.85,61.81 508.85,58.81 509.15,63.19 465.15,66.19" fill="url(#p57)"/>
<polygon points="326.59,120.05 602.59,167.55 601.41,174.45 325.41,126.95" fill="url(#p58)"/>
<polygon points="432.19,241.88 728.19,111.88 731.81,120.12 435.81,250.12" fill="url(#p59)"/>
<polygon points="432.13,241.74 461.73,228.74 465.47,237.26 435.87,250.26" fill="url(#p60)"/>
<polygon points="586.05,174.14 615.65,161.14 619.39,169.66 589.79,182.66" fill="url(#p61)"/>
<polygon points="698.53,124.74 728.13,111.74 731.87,120.26 702.27,133.26" fill="url(#p62)"/>
<polygon points="298.21,223.37 622.21,82.87 625.79,91.13 301.79,231.63" fill="url(#p63)"/>
<polygon points="298.15,223.23 330.55,209.18 334.25,217.72 301.85,231.77" fill="url(#p64)"/>
<polygon points="450.43,157.20 482.83,143.15 486.53,151.68 454.13,165.73" fill="url(#p65)"/>
<polygon points="589.75,96.78 622.15,82.73 625.85,91.27 593.45,105.32" fill="url(#p66)"/>
<polygon points="143.54,206.23 452.41,247.33 451.59,253.67 142.46,214.57" fill="url(#p67)"/>
<polygon points="500.0,53.0 700.0,108.7 865.0,153.7 1000.0,192.0 1060.0,211.5 1132.0,233.0 1194.0,250.5 1246.0,269.0 1289.0,282.0 1289.0,284.0 1245.0,274.4 1131.0,246.1 1059.0,228.1 971.5,206.3 866.0,180.1 700.0,123.0" fill="#b0b0b0"/>
<polygon points="731.44,111.74 1060.44,222.74 1057.56,231.26 728.56,120.26" fill="url(#p68)"/>
<polygon points="625.45,82.74 972.45,200.74 969.55,209.26 622.55,91.26" fill="url(#p69)"/>
<polygon points="906.24,162.20 1133.24,236.20 1130.76,243.80 903.76,169.80" fill="url(#p70)"/>
<polygon points="1001.11,192.42 1195.11,252.42 1192.89,259.58 998.89,199.58" fill="url(#p71)"/>
<polygon points="1100.99,224.64 1246.99,267.64 1245.01,274.36 1099.01,231.36" fill="url(#p72)"/>
<polygon points="483.28,42.48 701.28,104.18 698.72,113.22 480.72,51.52" fill="url(#p73)"/>
<circle cx="482.00" cy="47.00" r="4.70" fill="url(#p73)"/>
<circle cx="700.00" cy="108.70" r="4.70" fill="url(#p73)"/>
<polygon points="701.19,104.34 866.19,149.34 863.81,158.06 698.81,113.06" fill="url(#p74)"/>
<circle cx="700.00" cy="108.70" r="4.52" fill="url(#p74)"/>
<circle cx="865.00" cy="153.70" r="4.52" fill="url(#p74)"/>
<polygon points="866.18,149.53 1001.18,187.83 998.82,196.17 863.82,157.87" fill="url(#p75)"/>
<circle cx="865.00" cy="153.70" r="4.34" fill="url(#p75)"/>
<circle cx="1000.00" cy="192.00" r="4.34" fill="url(#p75)"/>
<polygon points="1001.28,188.05 1061.28,207.55 1058.72,215.45 998.72,195.95" fill="url(#p76)"/>
<circle cx="1000.00" cy="192.00" r="4.16" fill="url(#p76)"/>
<circle cx="1060.00" cy="211.50" r="4.16" fill="url(#p76)"/>
<polygon points="1061.14,207.69 1133.14,229.19 1130.86,236.81 1058.86,215.31" fill="url(#p77)"/>
<circle cx="1060.00" cy="211.50" r="3.98" fill="url(#p77)"/>
<circle cx="1132.00" cy="233.00" r="3.98" fill="url(#p77)"/>
<polygon points="1133.03,229.35 1195.03,246.85 1192.97,254.15 1130.97,236.65" fill="url(#p78)"/>
<circle cx="1132.00" cy="233.00" r="3.79" fill="url(#p78)"/>
<circle cx="1194.00" cy="250.50" r="3.79" fill="url(#p78)"/>
<polygon points="1195.21,247.10 1247.21,265.60 1244.79,272.40 1192.79,253.90" fill="url(#p79)"/>
<circle cx="1194.00" cy="250.50" r="3.61" fill="url(#p79)"/>
<circle cx="1246.00" cy="269.00" r="3.61" fill="url(#p79)"/>
<polygon points="1246.99,265.72 1289.99,278.72 1288.01,285.28 1245.01,272.28" fill="url(#p80)"/>
<circle cx="1246.00" cy="269.00" r="3.43" fill="url(#p80)"/>
<circle cx="1289.00" cy="282.00" r="3.43" fill="url(#p80)"/>
<polygon points="561.23,64.74 597.23,74.93 594.77,83.60 558.77,73.41" fill="url(#p81)"/>
<polygon points="728.13,111.92 766.13,122.28 763.87,130.57 725.87,120.21" fill="url(#p82)"/>
<polygon points="818.10,136.58 856.10,146.94 853.90,155.01 815.90,144.64" fill="url(#p83)"/>
<polygon points="947.10,172.81 981.10,182.46 978.90,190.19 944.90,180.55" fill="url(#p84)"/>
<polygon points="1076.10,212.28 1103.10,220.34 1100.90,227.74 1073.90,219.68" fill="url(#p85)"/>
<polygon points="1171.02,240.13 1193.02,246.34 1190.98,253.53 1168.98,247.33" fill="url(#p86)"/>
<circle cx="727.5" cy="114.0" r="2.6" fill="#2a2a2a"/>
<circle cx="817.5" cy="138.5" r="2.6" fill="#2a2a2a"/>
<circle cx="946" cy="174.5" r="2.4" fill="#2a2a2a"/>
<polygon points="881.11,179.09 972.61,201.87 970.39,210.80 878.89,188.02" fill="url(#p87)"/>
<circle cx="880.00" cy="183.55" r="4.60" fill="url(#p87)"/>
<circle cx="971.50" cy="206.34" r="4.60" fill="url(#p87)"/>
<polygon points="884.11,179.84 903.11,184.57 900.89,193.49 881.89,188.76" fill="url(#p88)"/>
<polygon points="950.61,196.39 970.61,201.37 968.39,210.30 948.39,205.32" fill="url(#p89)"/>
<polygon points="972.56,202.07 1060.06,223.85 1057.94,232.39 970.44,210.61" fill="url(#p90)"/>
<circle cx="971.50" cy="206.34" r="4.40" fill="url(#p90)"/>
<circle cx="1059.00" cy="228.12" r="4.40" fill="url(#p90)"/>
<polygon points="975.56,202.81 994.56,207.54 992.44,216.08 973.44,211.35" fill="url(#p91)"/>
<polygon points="1038.06,218.38 1058.06,223.36 1055.94,231.89 1035.94,226.91" fill="url(#p92)"/>
<polygon points="1060.01,224.05 1132.01,241.98 1129.99,250.13 1057.99,232.20" fill="url(#p93)"/>
<circle cx="1059.00" cy="228.12" r="4.20" fill="url(#p93)"/>
<circle cx="1131.00" cy="246.05" r="4.20" fill="url(#p93)"/>
<polygon points="1063.01,224.79 1081.61,229.43 1079.59,237.58 1060.99,232.95" fill="url(#p94)"/>
<polygon points="1110.41,236.60 1130.01,241.48 1127.99,249.63 1108.39,244.75" fill="url(#p95)"/>
<polygon points="1131.97,242.17 1193.47,257.48 1191.53,265.25 1130.03,249.93" fill="url(#p96)"/>
<circle cx="1131.00" cy="246.05" r="4.00" fill="url(#p96)"/>
<circle cx="1192.50" cy="261.36" r="4.00" fill="url(#p96)"/>
<polygon points="1134.97,242.92 1150.42,246.76 1148.48,254.53 1133.03,250.68" fill="url(#p97)"/>
<polygon points="1175.02,252.89 1191.47,256.99 1189.53,264.75 1173.08,260.65" fill="url(#p98)"/>
<polygon points="1193.42,257.68 1245.92,270.75 1244.08,278.12 1191.58,265.05" fill="url(#p99)"/>
<circle cx="1192.50" cy="261.36" r="3.80" fill="url(#p99)"/>
<circle cx="1245.00" cy="274.44" r="3.80" fill="url(#p99)"/>
<polygon points="1196.42,258.42 1209.17,261.60 1207.33,268.97 1194.58,265.80" fill="url(#p100)"/>
<polygon points="1230.17,266.83 1243.92,270.25 1242.08,277.63 1228.33,274.20" fill="url(#p101)"/>
<polygon points="1245.87,270.94 1287.87,281.40 1286.13,288.39 1244.13,277.93" fill="url(#p102)"/>
<circle cx="1245.00" cy="274.44" r="3.60" fill="url(#p102)"/>
<circle cx="1287.00" cy="284.89" r="3.60" fill="url(#p102)"/>
<polygon points="1248.87,271.69 1258.47,274.08 1256.73,281.07 1247.13,278.68" fill="url(#p103)"/>
<polygon points="1275.27,278.26 1285.87,280.90 1284.13,287.89 1273.53,285.25" fill="url(#p104)"/>
<path d="M1280.00,280.80 L1287.00,282.60 L1290.40,286.00 L1290.50,298.00" fill="none" stroke-linejoin="round" stroke-linecap="butt" stroke="#626262" stroke-width="7.40"/>
<path d="M1280.00,280.80 L1287.00,282.60 L1290.40,286.00 L1290.50,298.00" fill="none" stroke-linejoin="round" stroke-linecap="butt" stroke="#808080" stroke-width="5.80"/>
<path d="M1280.00,280.80 L1287.00,282.60 L1290.40,286.00 L1290.50,298.00" fill="none" stroke-linejoin="round" stroke-linecap="butt" stroke="#a2a2a2" stroke-width="3.83" transform="translate(-0.74,-0.74)"/>
<path d="M1280.00,280.80 L1287.00,282.60 L1290.40,286.00 L1290.50,298.00" fill="none" stroke-linejoin="round" stroke-linecap="butt" stroke="#bababa" stroke-width="2.07" transform="translate(-1.11,-1.11)"/>
<polygon points="483.79,40.91 853.79,171.11 850.21,181.29 480.21,51.09" fill="url(#p105)"/>
<polygon points="641.79,96.51 701.79,117.61 698.21,127.79 638.21,106.69" fill="url(#p106)"/>
<polygon points="801.80,152.81 841.80,166.91 838.20,177.09 798.20,162.99" fill="url(#p107)"/>
<polygon points="137.26,203.25 479.76,41.25 484.24,50.75 141.74,212.75" fill="url(#p108)"/>
<circle cx="139.50" cy="208.00" r="5.25" fill="url(#p108)"/>
<circle cx="482.00" cy="46.00" r="5.25" fill="url(#p108)"/>
<polygon points="297.73,127.21 327.73,113.01 332.27,122.59 302.27,136.79" fill="url(#p109)"/>
<polygon points="147.73,198.21 169.73,187.81 174.27,197.39 152.27,207.79" fill="url(#p110)"/>
<path d="M447.00,62.90 L472.00,51.10 L479.00,48.60 L485.00,48.40 L492.00,50.20 L520.00,59.90" fill="none" stroke-linejoin="round" stroke-linecap="butt" stroke="#444444" stroke-width="11.80"/>
<path d="M447.00,62.90 L472.00,51.10 L479.00,48.60 L485.00,48.40 L492.00,50.20 L520.00,59.90" fill="none" stroke-linejoin="round" stroke-linecap="butt" stroke="#585858" stroke-width="10.20"/>
<path d="M447.00,62.90 L472.00,51.10 L479.00,48.60 L485.00,48.40 L492.00,50.20 L520.00,59.90" fill="none" stroke-linejoin="round" stroke-linecap="butt" stroke="#6e6e6e" stroke-width="6.73" transform="translate(-1.18,-1.18)"/>
<path d="M447.00,62.90 L472.00,51.10 L479.00,48.60 L485.00,48.40 L492.00,50.20 L520.00,59.90" fill="none" stroke-linejoin="round" stroke-linecap="butt" stroke="#838383" stroke-width="3.30" transform="translate(-1.77,-1.77)"/>
<circle cx="446.5" cy="63" r="1.9" fill="#c8c8c8"/><circle cx="508.8" cy="58.8" r="1.9" fill="#c8c8c8"/>
<polygon points="1286.50,287.02 1288.00,539.02 1296.00,538.98 1294.50,286.98" fill="url(#p111)"/>
<polygon points="1286.50,287.00 1294.50,287.00 1296.00,539.00 1288.00,539.00" fill="url(#vshade)"/>
<polygon points="1286.91,465.03 1287.00,481.03 1296.30,480.97 1296.21,464.97" fill="url(#p112)"/>
<rect x="1286.91" y="465.00" width="9.30" height="16.00" fill="#6e6e6e" fill-opacity="0.23"/>
<line x1="1286.91" y1="465.00" x2="1296.21" y2="465.00" stroke="#8a8a8a" stroke-width="0.8"/>
<line x1="1287.00" y1="481.00" x2="1296.30" y2="481.00" stroke="#8a8a8a" stroke-width="0.8"/>
<polygon points="1287.45,531.03 1287.50,539.03 1296.50,538.97 1296.45,530.97" fill="url(#p113)"/>
<polygon points="1286.20,285.04 1286.30,296.04 1294.90,295.96 1294.80,284.96" fill="url(#p114)"/>
<ellipse cx="1292.0" cy="542.0" rx="13.6" ry="2" fill="#707070"/>
<polygon points="1240.75,275.02 1241.75,546.02 1250.25,545.98 1249.25,274.98" fill="url(#p115)"/>
<polygon points="1240.75,275.00 1249.25,275.00 1250.25,546.00 1241.75,546.00" fill="url(#vshade)"/>
<polygon points="1240.80,466.02 1240.87,484.02 1250.67,483.98 1250.60,465.98" fill="url(#p116)"/>
<rect x="1240.80" y="466.00" width="9.80" height="18.00" fill="#6e6e6e" fill-opacity="0.23"/>
<line x1="1240.80" y1="466.00" x2="1250.60" y2="466.00" stroke="#8a8a8a" stroke-width="0.8"/>
<line x1="1240.87" y1="484.00" x2="1250.67" y2="484.00" stroke="#8a8a8a" stroke-width="0.8"/>
<polygon points="1241.22,538.02 1241.25,546.02 1250.75,545.98 1250.72,537.98" fill="url(#p117)"/>
<polygon points="1240.45,273.04 1240.55,284.04 1249.65,283.96 1249.55,272.96" fill="url(#p118)"/>
<circle cx="1245.0" cy="272.0" r="3.6" fill="#7a7a7a"/><circle cx="1255.0" cy="278.0" r="3.1" fill="#6e6e6e"/>
<ellipse cx="1246.0" cy="549.0" rx="14.4" ry="2" fill="#707070"/>
<polygon points="1187.75,262.02 1189.25,552.02 1198.75,551.98 1197.25,261.98" fill="url(#p119)"/>
<polygon points="1187.75,262.00 1197.25,262.00 1198.75,552.00 1189.25,552.00" fill="url(#vshade)"/>
<polygon points="1188.17,469.03 1188.26,487.03 1199.06,486.97 1198.97,468.97" fill="url(#p120)"/>
<rect x="1188.17" y="469.00" width="10.80" height="18.00" fill="#6e6e6e" fill-opacity="0.23"/>
<line x1="1188.17" y1="469.00" x2="1198.97" y2="469.00" stroke="#8a8a8a" stroke-width="0.8"/>
<line x1="1188.26" y1="487.00" x2="1199.06" y2="487.00" stroke="#8a8a8a" stroke-width="0.8"/>
<polygon points="1188.71,544.03 1188.75,552.03 1199.25,551.97 1199.21,543.97" fill="url(#p121)"/>
<polygon points="1187.45,260.05 1187.55,271.05 1197.65,270.95 1197.55,259.95" fill="url(#p122)"/>
<circle cx="1192.5" cy="259.0" r="4.0" fill="#7a7a7a"/><circle cx="1203.5" cy="265.0" r="3.4" fill="#6e6e6e"/>
<ellipse cx="1194.0" cy="555.0" rx="16.1" ry="2" fill="#707070"/>
<polygon points="1126.00,247.02 1127.50,563.02 1137.50,562.98 1136.00,246.98" fill="url(#p123)"/>
<polygon points="1126.00,247.00 1136.00,247.00 1137.50,563.00 1127.50,563.00" fill="url(#vshade)"/>
<polygon points="1126.41,470.03 1126.52,494.03 1137.82,493.97 1137.71,469.97" fill="url(#p124)"/>
<rect x="1126.41" y="470.00" width="11.30" height="24.00" fill="#6e6e6e" fill-opacity="0.23"/>
<line x1="1126.41" y1="470.00" x2="1137.71" y2="470.00" stroke="#8a8a8a" stroke-width="0.8"/>
<line x1="1126.52" y1="494.00" x2="1137.82" y2="494.00" stroke="#8a8a8a" stroke-width="0.8"/>
<polygon points="1126.96,555.03 1127.00,563.03 1138.00,562.97 1137.96,554.97" fill="url(#p125)"/>
<polygon points="1125.70,245.05 1125.80,256.05 1136.40,255.95 1136.30,244.95" fill="url(#p126)"/>
<circle cx="1131.0" cy="244.0" r="4.2" fill="#7a7a7a"/><circle cx="1142.5" cy="250.0" r="3.6" fill="#6e6e6e"/>
<ellipse cx="1132.5" cy="566.0" rx="17.0" ry="2" fill="#707070"/>
<polygon points="1137.52,559.74 1292.02,537.04 1292.98,543.56 1138.48,566.26" fill="url(#p127)"/>
<circle cx="1124" cy="245" r="3" fill="#1c1c1c"/>
<ellipse cx="1127" cy="564" rx="4" ry="3" fill="#1c1c1c"/>
<polygon points="140.80,577.81 432.80,559.31 433.20,565.69 141.20,584.19" fill="url(#p128)"/>
<polygon points="430.75,249.98 429.75,559.98 439.25,560.02 440.25,250.02" fill="url(#p129)"/>
<polygon points="430.75,250.00 440.25,250.00 439.25,560.00 429.75,560.00" fill="url(#vshade)"/>
<polygon points="429.39,470.98 429.34,486.98 440.14,487.02 440.19,471.02" fill="url(#p130)"/>
<rect x="429.39" y="471.00" width="10.80" height="16.00" fill="#6e6e6e" fill-opacity="0.23"/>
<line x1="429.39" y1="471.00" x2="440.19" y2="471.00" stroke="#8a8a8a" stroke-width="0.8"/>
<line x1="429.34" y1="487.00" x2="440.14" y2="487.00" stroke="#8a8a8a" stroke-width="0.8"/>
<polygon points="429.28,550.98 429.25,559.98 439.75,560.02 439.78,551.02" fill="url(#p131)"/>
<polygon points="430.35,249.00 430.35,260.00 440.65,260.00 440.65,249.00" fill="url(#p132)"/>
<polygon points="295.75,229.98 294.25,571.98 303.75,572.02 305.25,230.02" fill="url(#p133)"/>
<polygon points="295.75,230.00 305.25,230.00 303.75,572.00 294.25,572.00" fill="url(#vshade)"/>
<polygon points="294.04,471.98 293.95,491.98 304.75,492.02 304.84,472.02" fill="url(#p134)"/>
<rect x="294.04" y="472.00" width="10.80" height="20.00" fill="#6e6e6e" fill-opacity="0.23"/>
<line x1="294.04" y1="472.00" x2="304.84" y2="472.00" stroke="#8a8a8a" stroke-width="0.8"/>
<line x1="293.95" y1="492.00" x2="304.75" y2="492.00" stroke="#8a8a8a" stroke-width="0.8"/>
<polygon points="293.79,562.98 293.75,571.98 304.25,572.02 304.29,563.02" fill="url(#p135)"/>
<polygon points="295.35,229.00 295.35,240.00 305.65,240.00 305.65,229.00" fill="url(#p136)"/>
<ellipse cx="438" cy="563" rx="11" ry="3.5" fill="#777"/>
<polygon points="865.14,600.27 972.21,582.37 973.79,591.63 866.86,610.33" fill="url(#p137)"/>
<polygon points="972.28,582.35 1059.33,569.25 1060.67,577.95 973.72,591.65" fill="url(#p138)"/>
<polygon points="1053.75,228.02 1054.75,572.52 1065.25,572.48 1064.25,227.98" fill="url(#p139)"/>
<polygon points="1053.75,228.00 1064.25,228.00 1065.25,572.50 1054.75,572.50" fill="url(#vshade)"/>
<polygon points="1053.80,470.02 1053.88,497.02 1065.68,496.98 1065.60,469.98" fill="url(#p140)"/>
<rect x="1053.80" y="470.00" width="11.80" height="27.00" fill="#6e6e6e" fill-opacity="0.23"/>
<line x1="1053.80" y1="470.00" x2="1065.60" y2="470.00" stroke="#8a8a8a" stroke-width="0.8"/>
<line x1="1053.88" y1="497.00" x2="1065.68" y2="497.00" stroke="#8a8a8a" stroke-width="0.8"/>
<polygon points="1054.22,562.52 1054.25,572.52 1065.75,572.48 1065.72,562.48" fill="url(#p141)"/>
<polygon points="1053.45,226.05 1053.55,238.05 1064.65,237.95 1064.55,225.95" fill="url(#p142)"/>
<circle cx="1059.0" cy="225.0" r="4.4" fill="#7a7a7a"/><circle cx="1071.0" cy="231.5" r="3.8" fill="#6e6e6e"/>
<ellipse cx="1066.0" cy="578.5" rx="16.8" ry="2.2" fill="#707070"/>
<polygon points="965.75,207.02 967.25,581.02 978.75,580.98 977.25,206.98" fill="url(#p143)"/>
<polygon points="965.75,207.00 977.25,207.00 978.75,581.00 967.25,581.00" fill="url(#vshade)"/>
<polygon points="966.18,477.53 966.28,500.03 979.08,499.97 978.98,477.47" fill="url(#p144)"/>
<rect x="966.18" y="477.50" width="12.80" height="22.50" fill="#6e6e6e" fill-opacity="0.23"/>
<line x1="966.18" y1="477.50" x2="978.98" y2="477.50" stroke="#8a8a8a" stroke-width="0.8"/>
<line x1="966.28" y1="500.00" x2="979.08" y2="500.00" stroke="#8a8a8a" stroke-width="0.8"/>
<polygon points="966.71,571.03 966.75,581.03 979.25,580.97 979.21,570.97" fill="url(#p145)"/>
<polygon points="965.45,205.05 965.55,217.05 977.65,216.95 977.55,204.95" fill="url(#p146)"/>
<circle cx="971.5" cy="204.0" r="4.8" fill="#7a7a7a"/><circle cx="984.5" cy="210.5" r="4.1" fill="#6e6e6e"/>
<ellipse cx="979.0" cy="587.0" rx="18.4" ry="2.2" fill="#707070"/>
<polygon points="141.18,580.70 306.18,587.10 305.82,596.50 140.82,590.10" fill="url(#p147)"/>
<polygon points="665.11,594.30 866.11,598.60 865.89,609.00 664.89,604.70" fill="url(#p148)"/>
<polygon points="665.12,594.10 686.12,594.55 685.88,605.35 664.88,604.90" fill="url(#p149)"/>
<polygon points="133.50,211.95 130.50,589.95 142.00,590.05 145.00,212.05" fill="url(#p150)"/>
<polygon points="133.50,212.00 145.00,212.00 142.00,590.00 130.50,590.00" fill="url(#vshade)"/>
<polygon points="130.76,474.95 130.57,498.95 143.37,499.05 143.56,475.05" fill="url(#p151)"/>
<rect x="130.76" y="475.00" width="12.80" height="24.00" fill="#6e6e6e" fill-opacity="0.22"/>
<line x1="130.76" y1="475.00" x2="143.56" y2="475.00" stroke="#8a8a8a" stroke-width="0.8"/>
<line x1="130.57" y1="499.00" x2="143.37" y2="499.00" stroke="#8a8a8a" stroke-width="0.8"/>
<polygon points="130.12,574.95 130.00,589.95 142.50,590.05 142.62,575.05" fill="url(#p152)"/>
<path d="M139.10,241.00 L139.30,214.00 L141.80,208.00 L152.00,202.40" fill="none" stroke-linejoin="round" stroke-linecap="butt" stroke="#525252" stroke-width="11.40"/>
<path d="M139.10,241.00 L139.30,214.00 L141.80,208.00 L152.00,202.40" fill="none" stroke-linejoin="round" stroke-linecap="butt" stroke="#6c6c6c" stroke-width="9.80"/>
<path d="M139.10,241.00 L139.30,214.00 L141.80,208.00 L152.00,202.40" fill="none" stroke-linejoin="round" stroke-linecap="butt" stroke="#909090" stroke-width="6.47" transform="translate(-1.14,-1.14)"/>
<path d="M139.10,241.00 L139.30,214.00 L141.80,208.00 L152.00,202.40" fill="none" stroke-linejoin="round" stroke-linecap="butt" stroke="#acacac" stroke-width="3.19" transform="translate(-1.71,-1.71)"/>
<ellipse cx="136" cy="592.8" rx="21" ry="2.4" fill="#666"/>
<polygon points="309.35,136.95 305.35,593.95 317.15,594.05 321.15,137.05" fill="url(#p153)"/>
<polygon points="309.35,137.00 321.15,137.00 317.15,594.00 305.35,594.00" fill="url(#vshade)"/>
<polygon points="305.74,474.94 305.53,498.94 318.63,499.06 318.84,475.06" fill="url(#p154)"/>
<rect x="305.74" y="475.00" width="13.10" height="24.00" fill="#6e6e6e" fill-opacity="0.24"/>
<line x1="305.74" y1="475.00" x2="318.84" y2="475.00" stroke="#8a8a8a" stroke-width="0.8"/>
<line x1="305.53" y1="499.00" x2="318.63" y2="499.00" stroke="#8a8a8a" stroke-width="0.8"/>
<polygon points="304.98,578.94 304.85,593.94 317.65,594.06 317.78,579.06" fill="url(#p155)"/>
<polygon points="307.20,196.95 306.90,234.95 319.70,235.05 320.00,197.05" fill="url(#p156)"/>
<ellipse cx="310" cy="596.6" rx="21" ry="2.4" fill="#666"/>
<polygon points="657.30,112.00 657.30,121.00 667.90,121.00 667.90,112.00" fill="url(#p157)"/>
<polygon points="657.60,119.98 657.30,181.98 667.30,182.02 667.60,120.02" fill="url(#p158)"/>
<polygon points="656.00,180.98 654.70,601.98 667.30,602.02 668.60,181.02" fill="url(#p159)"/>
<polygon points="656.00,181.00 668.60,181.00 667.30,602.00 654.70,602.00" fill="url(#vshade)"/>
<polygon points="654.43,477.98 654.35,504.98 668.25,505.02 668.33,478.02" fill="url(#p160)"/>
<rect x="654.43" y="478.00" width="13.90" height="27.00" fill="#6e6e6e" fill-opacity="0.23"/>
<line x1="654.43" y1="478.00" x2="668.33" y2="478.00" stroke="#8a8a8a" stroke-width="0.8"/>
<line x1="654.35" y1="505.00" x2="668.25" y2="505.00" stroke="#8a8a8a" stroke-width="0.8"/>
<polygon points="654.24,588.98 654.20,601.98 667.80,602.02 667.84,589.02" fill="url(#p161)"/>
<polygon points="655.40,180.97 655.20,221.97 668.80,222.03 669.00,181.03" fill="url(#p162)"/>
<ellipse cx="654" cy="605.6" rx="17" ry="2.2" fill="#666"/>
<polygon points="859.75,186.00 859.75,602.00 872.25,602.00 872.25,186.00" fill="url(#p163)"/>
<polygon points="859.75,186.00 872.25,186.00 872.25,602.00 859.75,602.00" fill="url(#vshade)"/>
<polygon points="859.10,472.00 859.10,505.00 872.90,505.00 872.90,472.00" fill="url(#p164)"/>
<rect x="859.10" y="472.00" width="13.80" height="33.00" fill="#6e6e6e" fill-opacity="0.22"/>
<line x1="859.10" y1="472.00" x2="872.90" y2="472.00" stroke="#8a8a8a" stroke-width="0.8"/>
<line x1="859.10" y1="505.00" x2="872.90" y2="505.00" stroke="#8a8a8a" stroke-width="0.8"/>
<path d="M846.00,174.10 L857.00,178.00 L863.60,182.50 L866.00,190.00 L866.00,216.00" fill="none" stroke-linejoin="round" stroke-linecap="butt" stroke="#545454" stroke-width="11.80"/>
<path d="M846.00,174.10 L857.00,178.00 L863.60,182.50 L866.00,190.00 L866.00,216.00" fill="none" stroke-linejoin="round" stroke-linecap="butt" stroke="#868686" stroke-width="10.20"/>
<path d="M846.00,174.10 L857.00,178.00 L863.60,182.50 L866.00,190.00 L866.00,216.00" fill="none" stroke-linejoin="round" stroke-linecap="butt" stroke="#b6b6b6" stroke-width="6.73" transform="translate(-1.18,-1.18)"/>
<path d="M846.00,174.10 L857.00,178.00 L863.60,182.50 L866.00,190.00 L866.00,216.00" fill="none" stroke-linejoin="round" stroke-linecap="butt" stroke="#d2d2d2" stroke-width="3.30" transform="translate(-1.77,-1.77)"/>
<ellipse cx="872" cy="611.5" rx="22" ry="2.4" fill="#666"/>
<line x1="60.50" y1="54.00" x2="60.50" y2="300.00" stroke="#444444" stroke-width="4.7"/>
<polygon points="60.50,39.50 53.00,55.00 68.00,55.00" fill="#444444"/>
<line x1="60.50" y1="580.50" x2="60.50" y2="339.00" stroke="#444444" stroke-width="4.7"/>
<polygon points="60.50,595.00 68.00,579.50 53.00,579.50" fill="#444444"/>
<line x1="1347.50" y1="298.60" x2="1347.50" y2="393.60" stroke="#444444" stroke-width="4.7"/>
<polygon points="1347.50,283.60 1339.80,299.60 1355.20,299.60" fill="#444444"/>
<line x1="1347.50" y1="530.20" x2="1347.50" y2="434.00" stroke="#444444" stroke-width="4.7"/>
<polygon points="1347.50,545.20 1355.20,529.20 1339.80,529.20" fill="#444444"/>
<line x1="131.99" y1="636.69" x2="439.50" y2="645.00" stroke="#444444" stroke-width="5.3"/>
<polygon points="117.50,636.30 132.80,644.02 133.19,629.42" fill="#444444"/>
<line x1="840.01" y1="657.10" x2="532.00" y2="648.60" stroke="#444444" stroke-width="5.3"/>
<polygon points="854.50,657.50 839.21,649.78 838.80,664.37" fill="#444444"/>
<line x1="911.76" y1="653.16" x2="1058.60" y2="626.00" stroke="#444444" stroke-width="5.5"/>
<polygon points="897.50,655.80 914.09,660.26 911.40,645.70" fill="#444444"/>
<line x1="1292.51" y1="581.78" x2="1146.00" y2="607.20" stroke="#444444" stroke-width="5.5"/>
<polygon points="1306.80,579.30 1290.26,574.66 1292.79,589.24" fill="#444444"/>
<rect x="223" y="356" width="87" height="38.7" rx="14" fill="#fff"/>
<line x1="268.60" y1="168.50" x2="268.60" y2="356.00" stroke="#d30c0c" stroke-width="5.2"/>
<polygon points="268.60,155.00 261.35,169.50 275.85,169.50" fill="#d30c0c"/>
<line x1="268.60" y1="578.50" x2="268.60" y2="395.00" stroke="#d30c0c" stroke-width="5.2"/>
<polygon points="268.60,592.00 275.85,577.50 261.35,577.50" fill="#d30c0c"/>
<rect x="435" y="561" width="89" height="36" rx="14" fill="#fff"/>
<line x1="343.24" y1="576.17" x2="434.00" y2="578.80" stroke="#d30c0c" stroke-width="5.4"/>
<polygon points="328.75,575.75 344.04,583.20 344.45,569.20" fill="#d30c0c"/>
<line x1="615.50" y1="583.38" x2="525.90" y2="581.10" stroke="#d30c0c" stroke-width="5.4"/>
<polygon points="630.00,583.75 614.68,576.36 614.33,590.35" fill="#d30c0c"/>
<text x="60.98" y="327.61" font-size="23.4" fill="#333" text-anchor="middle" letter-spacing="0.55">3,96 m</text>
<text x="1348.08" y="420.61" font-size="23.4" fill="#333" text-anchor="middle" letter-spacing="0.55">2,5 m</text>
<text x="486.15" y="651.81" font-size="23.4" fill="#333" text-anchor="middle" letter-spacing="0.8">8 m</text>
<text x="1100.95" y="621.81" font-size="23.4" fill="#333" text-anchor="middle" letter-spacing="0.5">30 m</text>
<text x="269.01" y="382.16" font-size="19.6" fill="#d30c0c" text-anchor="middle" letter-spacing="0.22">3,09 m</text>
<text x="478.69" y="584.96" font-size="19.6" fill="#d30c0c" text-anchor="middle" letter-spacing="0.18">4,06 m</text>
<circle cx="232" cy="164.5" r="16.9" fill="#2e2e2e"/>
<text x="232" y="171.60" font-size="20" fill="#fff" text-anchor="middle">1</text>
<circle cx="325.75" cy="122.5" r="16.9" fill="#2e2e2e"/>
<text x="325.75" y="129.60" font-size="20" fill="#fff" text-anchor="middle">2</text>
<circle cx="484" cy="91.7" r="16.9" fill="#2e2e2e"/>
<text x="484" y="98.80" font-size="20" fill="#fff" text-anchor="middle">3</text>
<circle cx="865" cy="475.75" r="16.9" fill="#2e2e2e"/>
<text x="865" y="482.85" font-size="20" fill="#fff" text-anchor="middle">4</text>
<circle cx="662.8" cy="426.8" r="16.9" fill="#2e2e2e"/>
<text x="662.8" y="433.90" font-size="20" fill="#fff" text-anchor="middle">5</text>
<circle cx="756.25" cy="601.25" r="16.9" fill="#2e2e2e"/>
<text x="756.25" y="608.35" font-size="20" fill="#fff" text-anchor="middle">6</text>
<circle cx="865" cy="604.25" r="16.9" fill="#2e2e2e"/>
<text x="865" y="611.35" font-size="20" fill="#fff" text-anchor="middle">7</text>
</svg></div>
</body></html>
